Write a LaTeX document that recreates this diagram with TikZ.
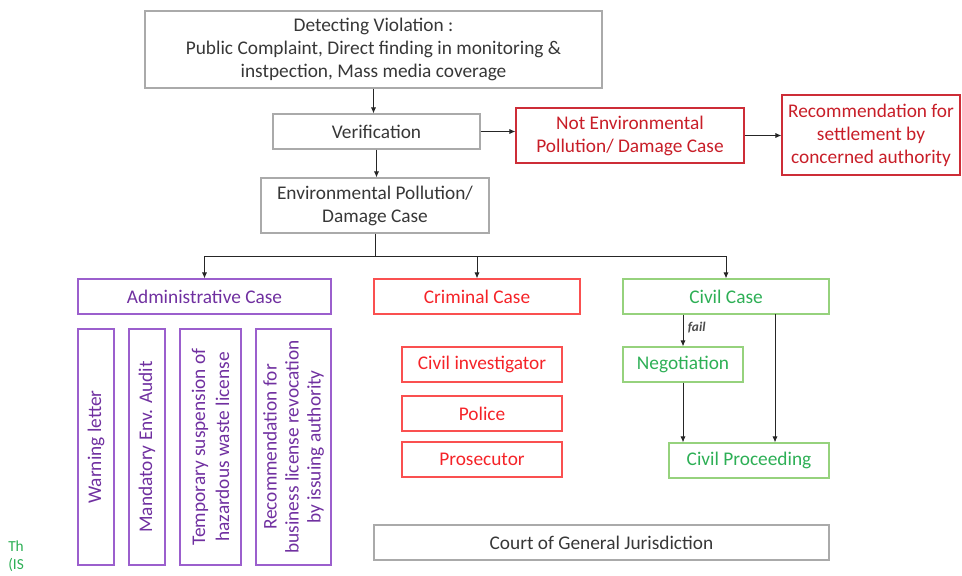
\documentclass[tikz,border=0pt]{standalone}
\usepackage{fontspec}
\setmainfont{Carlito}
\usetikzlibrary{arrows.meta}
\definecolor{gtext}{RGB}{55,55,55}
\definecolor{gline}{RGB}{170,170,170}
\definecolor{dred}{RGB}{200,30,40}
\definecolor{dredl}{RGB}{205,45,55}
\definecolor{bred}{RGB}{245,35,40}
\definecolor{bredl}{RGB}{250,80,80}
\definecolor{ptext}{RGB}{112,48,160}
\definecolor{pline}{RGB}{155,95,205}
\definecolor{gntext}{RGB}{45,175,85}
\definecolor{gnline}{RGB}{150,210,125}
\tikzset{
  box/.style={draw, rectangle, line width=0.9pt, inner sep=0pt, align=center, font=\fontsize{14.5}{17.25}\selectfont},
  greybox/.style={box, draw=gline, text=gtext},
  dredbox/.style={box, draw=dredl, text=dred},
  redbox/.style={box, draw=bredl, text=bred},
  purbox/.style={box, draw=pline, text=ptext},
  grnbox/.style={box, draw=gnline, text=gntext},
  conn/.style={draw=black!85, line width=0.6pt, -{Latex[length=4.5pt,width=3.8pt]}},
  plain/.style={draw=black!85, line width=0.6pt}
}
\begin{document}
\begin{tikzpicture}[x=0.75pt,y=-0.75pt]
\useasboundingbox (0,0) rectangle (962,575);
% top part
\node[greybox, minimum width=342.75pt, minimum height=57.75pt] (top) at (373.5,49.5)
  {Detecting Violation :\\Public Complaint, Direct finding in monitoring \&\\instpection, Mass media coverage};
\node[greybox, minimum width=155.25pt, minimum height=26.25pt] (verif) at (376.5,131.5) {Verification};
\node[dredbox, minimum width=171pt, minimum height=41.25pt] (notenv) at (630,135.5) {Not Environmental\\Pollution/ Damage Case};
\node[dredbox, minimum width=133.5pt, minimum height=60pt] (rec) at (871,135) {Recommendation for\\settlement by\\concerned authority};
\node[greybox, minimum width=171pt, minimum height=41.25pt] (env) at (375,205.5) {Environmental Pollution/\\Damage Case};
% case boxes
\node[purbox, minimum width=189.75pt, minimum height=26.25pt] (admin) at (204.5,296.5) {Administrative Case};
\node[redbox, minimum width=154.5pt, minimum height=26.25pt] (crim) at (477,296.5) {Criminal Case};
\node[grnbox, minimum width=154.5pt, minimum height=26.25pt] (civil) at (726,296.5) {Civil Case};
% administrative measures (vertical)
\node[purbox, rotate=90, minimum width=177pt, minimum height=27pt] (warn) at (96,447) {Warning letter};
\node[purbox, rotate=90, minimum width=177pt, minimum height=27pt] (audit) at (147,447) {Mandatory Env. Audit};
\node[purbox, rotate=90, minimum width=177pt, minimum height=45.75pt, font=\fontsize{14.5}{18}\selectfont] (susp) at (210.5,447) {Temporary suspension of\\hazardous waste license};
\node[purbox, rotate=90, minimum width=177pt, minimum height=56.25pt, font=\fontsize{14.5}{16.5}\selectfont] (revoc) at (293.5,447) {Recommendation for\\business license revocation\\by issuing authority};
% criminal
\node[redbox, minimum width=120pt, minimum height=26.25pt] (inv) at (482,364.5) {Civil investigator};
\node[redbox, minimum width=120pt, minimum height=26.25pt] (police) at (482,413.5) {Police};
\node[redbox, minimum width=120pt, minimum height=26.25pt] (pros) at (482,459.5) {Prosecutor};
% civil
\node[grnbox, minimum width=90pt, minimum height=26.25pt] (neg) at (683,364.5) {Negotiation};
\node[grnbox, minimum width=120pt, minimum height=26.25pt] (cp) at (749,460.5) {Civil Proceeding};
% court
\node[greybox, minimum width=341.25pt, minimum height=26.25pt] (court) at (601.5,542.5) {Court of General Jurisdiction};
% cut-off text at left
\node[anchor=west, text=gntext, inner sep=0pt, font=\fontsize{11.5}{13}\selectfont] (th) at (8,546) {Th};
\node[anchor=west, text=gntext, inner sep=0pt, font=\fontsize{11.5}{13}\selectfont] (is) at (8,565) {(IS};
% connectors
\draw[conn] (top.south) -- (top.south |- verif.north);
\draw[conn] (verif.south) -- (verif.south |- env.north);
\draw[conn] (verif.east) -- (verif.east -| notenv.west);
\draw[conn] (notenv.east) -- (notenv.east -| rec.west);
\coordinate (br) at (375,256);
\draw[plain] (env.south) -- (env.south |- br);
\draw[plain] (admin.north |- br) -- (civil.north |- br);
\draw[conn] (admin.north |- br) -- (admin.north);
\draw[conn] (crim.north |- br) -- (crim.north);
\draw[conn] (civil.north |- br) -- (civil.north);
\draw[conn] (civil.south -| neg.north) -- node[right, text=black!70, font=\fontsize{10}{11}\selectfont\itshape\bfseries, pos=0.4] {fail} (neg.north);
\draw[conn] (neg.south) -- (neg.south |- cp.north);
\coordinate (cr) at (775,314);
\draw[conn] (cr) -- (cr |- cp.north);
\end{tikzpicture}
\end{document}
